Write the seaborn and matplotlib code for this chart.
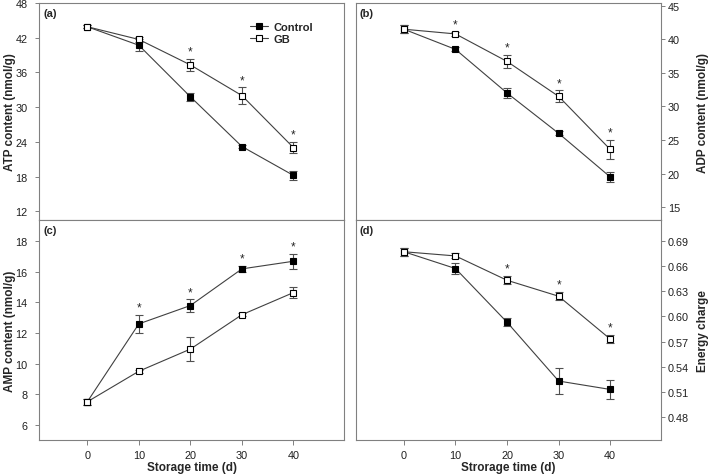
import matplotlib
matplotlib.use("Agg")
import matplotlib.pyplot as plt
import seaborn as sns
import numpy as np
import pandas as pd

sns.set_style("ticks")
plt.rcParams['font.family'] = ['Liberation Sans', 'DejaVu Sans']

days = [0, 10, 20, 30, 40]

# ATP content (nmol/g)
atp_ctrl = [43.9, 40.7, 31.8, 23.2, 18.2]
atp_ctrl_err = [0.3, 1.0, 0.7, 0.3, 0.8]
atp_gb = [43.9, 41.7, 37.3, 32.0, 23.0]
atp_gb_err = [0.3, 0.5, 1.1, 1.4, 1.0]

# ADP content (nmol/g)
adp_ctrl = [41.5, 38.5, 32.0, 26.0, 19.5]
adp_ctrl_err = [0.6, 0.3, 0.7, 0.3, 0.8]
adp_gb = [41.5, 40.8, 36.7, 31.5, 23.6]
adp_gb_err = [0.6, 0.3, 1.0, 0.9, 1.4]

# AMP content (nmol/g)
amp_ctrl = [7.5, 12.6, 13.8, 16.2, 16.7]
amp_ctrl_err = [0.2, 0.6, 0.4, 0.2, 0.5]
amp_gb = [7.5, 9.5, 10.95, 13.2, 14.65]
amp_gb_err = [0.2, 0.1, 0.8, 0.1, 0.35]

# Energy charge
ec_ctrl = [0.677, 0.657, 0.593, 0.523, 0.513]
ec_ctrl_err = [0.005, 0.006, 0.005, 0.015, 0.011]
ec_gb = [0.677, 0.672, 0.643, 0.624, 0.573]
ec_gb_err = [0.005, 0.003, 0.005, 0.005, 0.005]

# days marked significant
atp_stars = [20, 30, 40]
adp_stars = [10, 20, 30, 40]
amp_stars = [10, 20, 30, 40]
ec_stars = [20, 30, 40]

fig = plt.figure(figsize=(7.09, 4.77), dpi=100)
ax_a = fig.add_axes([0.0555, 0.5367, 0.4297, 0.4549])
ax_b = fig.add_axes([0.502, 0.5367, 0.430, 0.4549])
ax_c = fig.add_axes([0.0555, 0.0755, 0.4297, 0.4612])
ax_d = fig.add_axes([0.502, 0.0755, 0.430, 0.4612])

spine_col = '#808080'
line_col = '#404040'


def draw(ax, ctrl, ctrl_err, gb, gb_err, stars, star_on):
    for vals, errs, face, name in [(ctrl, ctrl_err, 'black', 'Control'),
                                   (gb, gb_err, 'white', 'GB')]:
        ax.errorbar(days, vals, yerr=errs, fmt='none', ecolor='#505050',
                    elinewidth=0.8, capsize=2.8, capthick=0.8, zorder=2)
        df = pd.DataFrame({'day': days, 'val': vals})
        sns.lineplot(data=df, x='day', y='val', ax=ax, color=line_col,
                     linewidth=0.8, marker='s', markersize=4.3,
                     markerfacecolor=face, markeredgecolor='black',
                     markeredgewidth=0.8, label=name, legend=False, zorder=3)
    # star goes just above the upper error bar
    ref = np.array(star_on[0]) + np.array(star_on[1])
    for d in stars:
        i = days.index(d)
        ax.annotate('*', (d, ref[i]), xytext=(0, 1), textcoords='offset points',
                    ha='center', va='bottom', fontsize=8.5)
    ax.set_xlim(-9.3, 49.8)
    ax.set_xticks(days)
    for s in ax.spines.values():
        s.set_color(spine_col)
        s.set_linewidth(0.8)
    ax.tick_params(colors='#202020', labelsize=7.8, length=3, width=0.7,
                   color=spine_col)
    ax.tick_params(axis='x', length=3.5, pad=3.5)
    ax.set_xlabel('')
    ax.set_ylabel('')


draw(ax_a, atp_ctrl, atp_ctrl_err, atp_gb, atp_gb_err, atp_stars, (atp_gb, atp_gb_err))
draw(ax_b, adp_ctrl, adp_ctrl_err, adp_gb, adp_gb_err, adp_stars, (adp_gb, adp_gb_err))
draw(ax_c, amp_ctrl, amp_ctrl_err, amp_gb, amp_gb_err, amp_stars, (amp_ctrl, amp_ctrl_err))
draw(ax_d, ec_ctrl, ec_ctrl_err, ec_gb, ec_gb_err, ec_stars, (ec_gb, ec_gb_err))

ax_a.set_ylim(10.5, 48)
ax_a.set_yticks([12, 18, 24, 30, 36, 42, 48])
ax_b.set_ylim(13.1, 45.4)
ax_b.set_yticks([15, 20, 25, 30, 35, 40, 45])
ax_c.set_ylim(5.0, 19.4)
ax_c.set_yticks([6, 8, 10, 12, 14, 16, 18])
ax_d.set_ylim(0.4528, 0.7148)
ax_d.set_yticks([0.48, 0.51, 0.54, 0.57, 0.60, 0.63, 0.66, 0.69])
ax_d.set_yticklabels([f"{v:.2f}" for v in ax_d.get_yticks()])

for ax in (ax_a, ax_b):
    ax.tick_params(axis='x', bottom=False, labelbottom=False)
for ax in (ax_a, ax_c):
    ax.tick_params(axis='y', pad=5.5)
for ax in (ax_b, ax_d):
    ax.yaxis.tick_right()
    ax.yaxis.set_label_position('right')
    ax.tick_params(axis='y', pad=2)

lab = dict(fontsize=8.5, fontweight='bold')
ax_a.set_ylabel('ATP content (nmol/g)', **lab)
ax_b.set_ylabel('ADP content (nmol/g)', **lab)
ax_c.set_ylabel('AMP content (nmol/g)', **lab)
ax_d.set_ylabel('Energy charge', **lab)
ax_c.set_xlabel('Storage time (d)', **lab)
ax_d.set_xlabel('Strorage time (d)', **lab)
for ax in (ax_a, ax_c):
    ax.yaxis.set_label_coords(-0.078, 0.5)
for ax in (ax_b, ax_d):
    ax.yaxis.set_label_coords(1.118, 0.5)
for ax in (ax_c, ax_d):
    ax.xaxis.set_label_coords(0.5, -0.095)

for ax, t in zip((ax_a, ax_b, ax_c, ax_d), ('(a)', '(b)', '(c)', '(d)')):
    ax.text(0.012, 0.975, t, transform=ax.transAxes, ha='left', va='top',
            fontsize=8, fontweight='bold')

ax_a.legend(loc='upper left', bbox_to_anchor=(0.66, 0.96), frameon=False,
            handlelength=1.6, handletextpad=0.5, labelspacing=0.2,
            prop={'weight': 'bold', 'size': 8})

fig.savefig('out.png', dpi=100)
